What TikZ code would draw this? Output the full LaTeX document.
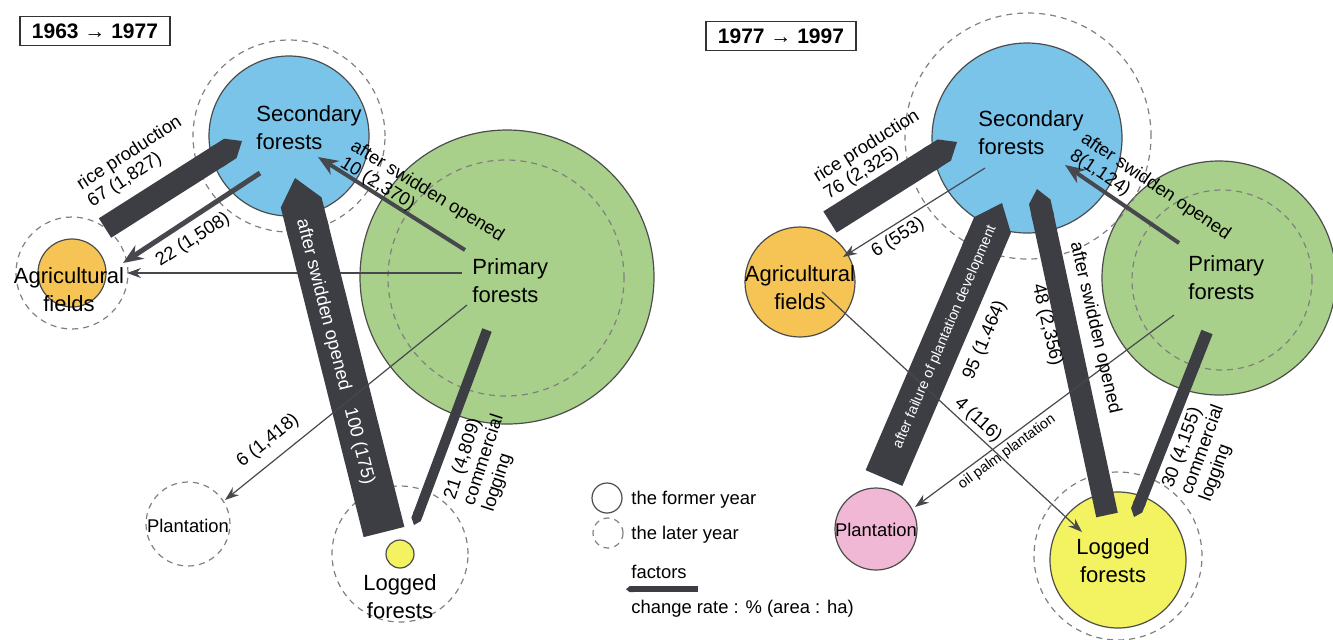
\documentclass[tikz,border=0pt]{standalone}
\usepackage{fontspec}
\setmainfont{Liberation Sans}
\usetikzlibrary{arrows.meta,calc}

\definecolor{secblue}{RGB}{122,196,234}
\definecolor{prigreen}{RGB}{168,208,138}
\definecolor{agrorange}{RGB}{245,196,84}
\definecolor{logyellow}{RGB}{243,242,96}
\definecolor{plapink}{RGB}{240,184,212}
\definecolor{factorgray}{RGB}{60,62,68}
\definecolor{flowgray}{RGB}{70,72,78}

\tikzset{
  region/.style={circle, draw=black!70, line width=0.6pt, inner sep=0pt, minimum size=#1},
  later/.style={circle, draw=black!50, line width=0.6pt, dash pattern=on 3pt off 2.5pt, inner sep=0pt, minimum size=#1},
  place/.style={font=\fontsize{11}{14}\selectfont, inner sep=0pt},
  rate/.style={font=\fontsize{9.2}{10}\selectfont, inner sep=0pt},
  small/.style={font=\fontsize{7.2}{8.5}\selectfont, inner sep=0pt},
  factor/.style={draw=factorgray, line width=#1, -{Triangle Cap[length=0pt .6]}},
  flow/.style={draw=flowgray, line width=0.6pt, -{Stealth[length=7pt,width=5pt]}},
  bigflow/.style={draw=flowgray, line width=2pt, -{Stealth[length=10pt,width=8pt]}},
  period/.style={draw=black!80, line width=0.6pt, font=\bfseries\fontsize{10.5}{12}\selectfont, minimum width=75pt, minimum height=14.5pt, inner sep=0pt}
}

\begin{document}
\begin{tikzpicture}[x=0.5pt, y=-0.5pt]
\useasboundingbox (0,0) rectangle (1333,639);

% 1963 -> 1977
\node[period] (perA) at (95,31) {1963 → 1977};
\node[region=147pt, fill=prigreen] (priA) at (507,277) {};
\node[region=80pt, fill=secblue] (secA) at (289,136) {};
\node[region=34pt, fill=agrorange] (agrA) at (72,273) {};
\node[region=14pt, fill=logyellow] (logA) at (400,554) {};
\node[later=96pt] (secAd) at (secA) {};
\node[later=118pt] (priAd) at (506,278) {};
\node[later=56pt] (agrAd) at (agrA) {};
\node[later=42pt] (plaA) at (188,524) {};
\node[later=68pt] (logAd) at (logA) {};

\draw[factor=11.5pt] ($(agrA)+(33,-45)$) -- ($(secA)+(-47,5)$);
\draw[bigflow, line width=2.5pt] ($(secA)+(-29,37)$) -- ($(agrA)+(51,-10)$);
\draw[flow] ($(priA)+(-45,-4)$) -- ($(agrA)+(55,0)$);
\draw[bigflow] ($(priA)+(-42,-27)$) -- ($(secA)+(29,21)$);
\draw[factor=21pt] ($(logA)+(-16,-22)$) -- ($(secA)+(6,42)$);
\draw[flow] ($(priA)+(-40,28)$) -- ($(plaA)+(37,-24)$);
\draw[factor=5pt] ($(priA)+(-20,53)$) -- ($(logA)+(14,-29)$);

\node[place, align=left, anchor=west] (secAt) at (256,128) {Secondary\\forests};
\node[place, align=left, anchor=west] (priAt) at (472,281) {Primary\\forests};
\node[place, align=center] (agrAt) at (69,290) {Agricultural\\fields};
\node[rate] (plaAt) at (188,526) {Plantation};
\node[place, align=center] (logAt) at (400,597) {Logged\\forests};

\node[rate, align=left, rotate=33] (riceA) at (135,162) {rice production\\67 (1,827)};
\node[rate, rotate=33] (backA) at (193,240) {22 (1,508)};
\node[rate, align=left, rotate=-31.5] (swidA) at (422,200) {after swidden opened\\10 (2,370)};
\node[rate, rotate=39] (plantA) at (268,441) {6 (1,418)};
\node[rate, align=left, rotate=72] (logginA) at (484,460) {21 (4,809)\\commercial\\logging};
\node[rate, text=white, rotate=-75.8] (openA) at (335,352) {after swidden opened\quad 100 (175)};

% 1977 -> 1997
\node[period] (perB) at (781,36) {1977 → 1997};
\node[region=117pt, fill=prigreen] (priB) at (1219,278) {};
\node[region=95pt, fill=secblue] (secB) at (1027,138) {};
\node[region=55pt, fill=agrorange] (agrB) at (800,282) {};
\node[region=41pt, fill=plapink] (plaB) at (876,529) {};
\node[region=68pt, fill=logyellow] (logB) at (1118,560) {};
\node[later=123pt] (secBd) at (1028,136) {};
\node[later=90pt] (priBd) at (1222,280) {};
\node[later=84pt] (logBd) at (1118,556) {};

\draw[factor=12.5pt] ($(agrB)+(30,-60)$) -- ($(secB)+(-70,4)$);
\draw[flow] ($(secB)+(-42,30)$) -- ($(agrB)+(43,-25)$);
\draw[factor=20pt] ($(plaB)+(8,-51)$) -- ($(secB)+(-25,65)$);
\draw[factor=11pt] ($(logB)+(-11,-45)$) -- ($(secB)+(10,51)$);
\draw[bigflow] ($(priB)+(-40,-35)$) -- ($(secB)+(38,27)$);
\draw[factor=6pt] ($(priB)+(-12,54)$) -- ($(logB)+(16,-43)$);
\draw[flow] ($(agrB)+(22,10)$) -- ($(logB)+(-36,-28)$);
\draw[flow] ($(priB)+(-45,37)$) -- ($(plaB)+(39,-22)$);

\node[place, align=left, anchor=west] (secBt) at (978,133) {Secondary\\forests};
\node[place, align=left, anchor=west] (priBt) at (1188,278) {Primary\\forests};
\node[place, align=center] (agrBt) at (800,288) {Agricultural\\fields};
\node[rate] (plaBt) at (876,530) {Plantation};
\node[place, align=center] (logBt) at (1113,561) {Logged\\forests};

\node[rate, align=left, rotate=32] (riceB) at (872,155) {rice production\\76 (2,325)};
\node[rate, rotate=32] (backB) at (898,238) {6 (553)};
\node[small, text=white, rotate=66.7] (failB) at (945,337) {after failure of plantation development};
\node[rate, rotate=66.7] (failnB) at (985,340) {95 (1.464)};
\node[rate, rotate=-77] (opennB) at (1047,325) {48 (2,356)};
\node[rate, rotate=-77] (openB) at (1095,328) {after swidden opened};
\node[rate, align=left, rotate=-34] (swidB) at (1150,195) {after swidden opened\\8(1,124)};
\node[rate, align=left, rotate=70] (logginB) at (1203,450) {30 (4,155)\\commercial\\logging};
\node[rate, rotate=-43] (agrlogB) at (978,420) {4 (116)};
\node[small, rotate=36] (oilB) at (1007,452) {oil palm plantation};

% legend
\node[region=15pt] (legA) at (607,498) {};
\node[later=15pt] (legB) at (608,533) {};
\node[rate, anchor=west] (legAt) at (631,500) {the former year};
\node[rate, anchor=west] (legBt) at (631,535) {the later year};
\node[rate, anchor=west] (legCt) at (631,572) {factors};
\node[rate, anchor=west] (legDt) at (631,609) {change rate : \% (area : ha)};
\draw[factor=3pt] ($(legCt.south east)+(11,10)$) -- ($(legCt.south west)+(-5,10)$);
\end{tikzpicture}
\end{document}
